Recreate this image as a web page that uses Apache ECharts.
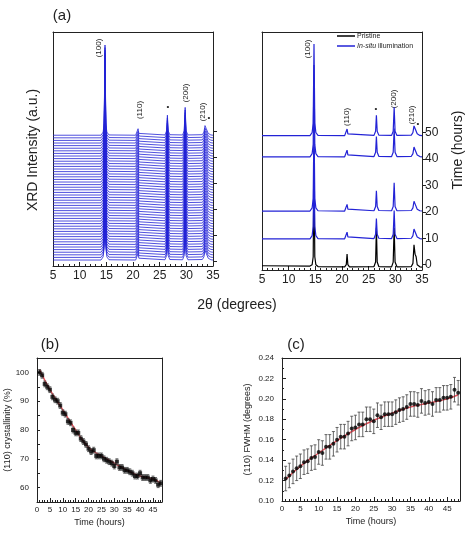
<!DOCTYPE html>
<html><head><meta charset="utf-8">
<script src="https://cdn.jsdelivr.net/npm/echarts@6/dist/echarts.min.js"></script>
<style>html,body{margin:0;background:#fff}#c{width:474px;height:535px}</style>
</head><body><div id="c"></div>
<script>
// XRD profile (2θ, intensity) of an illuminated scan
var twoTheta = [5,14.0,14.4,14.6,14.75,14.9,15.1,15.5, 20.5,20.8,20.95,21.1,21.4, 26.0,26.3,26.45,26.6,26.9, 29.3,29.6,29.78,29.95,30.3, 33.0,33.3,33.5,33.7,33.9,34.1,34.6,35];
var blueProfile = [0.3,0.3,1.5,5,35,5,1.5,0.4, 0.3,1,2.8,1,0.3, 0.4,2,8,2,0.5, 0.4,2,11,2,0.4, 0.5,1.5,4,3,2.5,1,0.4,0.3];
var blackProfile = [0.6,0.5,1,4,40,4,1,0.3, 0.2,1,5,1,0.2, 0.3,2,15,2,0.3, 0.2,2,15,2,0.2, 0.3,1.5,8.5,5,4,1,0.2,0.1];
var leftTimes = [0,1,2,3,4,5,6,7,8,9,10,11,12,13,14,15,16,17,18,19,20,21,22,23,24,25,26,27,28,29,30,31,32,33,34,35,36,37,38,39,40,41,42,43,44,45,46,47,48];
var rightTimes = [9.5,20,40.5,48.5];
var pristineOffset = -1;
var timeTicks = [0,10,20,30,40,50];
// (b) and (c)
var hours = [1,2,3,4,5,6,7,8,9,10,11,12,13,14,15,16,17,18,19,20,21,22,23,24,25,26,27,28,29,30,31,32,33,34,35,36,37,38,39,40,41,42,43,44,45,46,47,48];
var cryst = [100,99,96,95,94,91.5,90.5,90,88.5,86,85.5,83,82.5,80,79,79,77,76,75,73.5,72.5,73,71,71,71,70,69.5,69,68.5,67.5,69,67,67,66,66,65.5,65,64,64,65,63.5,63.5,63.5,62.5,63,62.5,61,61.5];
var crystErr = 1;
var crystFitT = [1,5,10,15,20,25,30,35,40,45,48];
var crystFit = [101,94,87,80,74,71,68.5,66,64,63,61.5];
var fwhm = [0.122,0.125,0.129,0.132,0.134,0.138,0.139,0.142,0.143,0.148,0.147,0.153,0.153,0.156,0.160,0.163,0.163,0.166,0.171,0.172,0.175,0.175,0.180,0.180,0.178,0.184,0.182,0.185,0.185,0.185,0.187,0.189,0.190,0.192,0.195,0.195,0.194,0.198,0.196,0.197,0.195,0.199,0.199,0.201,0.201,0.202,0.209,0.206];
var fwhmErr = 0.012;
var fwhmFitT = [1,5,10,15,20,25,30,35,40,45,48];
var fwhmFit = [0.121,0.134,0.147,0.159,0.170,0.179,0.186,0.192,0.196,0.200,0.204];

var chart = echarts.init(document.getElementById('c'));
var F = 'Arial, Liberation Sans, sans-serif';
var BLUE = '#2323d6';
function prof(p, off){ return twoTheta.map(function(x,i){return [x, p[i]+off];}); }
function xA(grid, min, max, interval, fs, name){
  return {gridIndex:grid, type:'value', min:min, max:max, interval:interval,
    axisLine:{onZero:false,lineStyle:{color:'#222',width:1}}, axisTick:{inside:true,length:4,lineStyle:{color:'#222'}},
    minorTick:{show:true,splitNumber:5,length:2,lineStyle:{color:'#222'}},
    axisLabel:{color:'#222',fontSize:fs,fontFamily:F,margin:4,showMaxLabel:max%5===0}, splitLine:{show:false}};
}
function frameX(grid){ return {gridIndex:grid,type:'value',position:'top',min:0,max:1,axisLine:{onZero:false,lineStyle:{color:'#222'}},axisTick:{show:false},axisLabel:{show:false},splitLine:{show:false}}; }
function frameY(grid,pos){ return {gridIndex:grid,type:'value',position:pos,min:0,max:1,axisLine:{show:true,onZero:false,lineStyle:{color:'#222'}},axisTick:{show:false},axisLabel:{show:false},splitLine:{show:false}}; }
var axLine = {show:true,onZero:false,lineStyle:{color:'#222',width:1}};
var series = [];
leftTimes.forEach(function(t){ series.push({type:'line',xAxisIndex:0,yAxisIndex:0,data:prof(blueProfile,t),showSymbol:false,silent:true,lineStyle:{color:BLUE,width:0.8},z:2+t}); });
series.push({type:'line',xAxisIndex:1,yAxisIndex:1,data:prof(blackProfile,pristineOffset),showSymbol:false,lineStyle:{color:'#000',width:1.2}});
rightTimes.forEach(function(t){ series.push({type:'line',xAxisIndex:1,yAxisIndex:1,data:prof(blueProfile,t),showSymbol:false,lineStyle:{color:BLUE,width:1.2}}); });
function errSeries(xi, ys, err){
  return {type:'custom',xAxisIndex:xi,yAxisIndex:xi,data:hours.map(function(h,i){return [h,ys[i]-err,ys[i]+err];}),
    renderItem:function(p,api){var a=api.coord([api.value(0),api.value(1)]),b=api.coord([api.value(0),api.value(2)]);
      return {type:'group',children:[
        {type:'line',shape:{x1:a[0],y1:a[1],x2:b[0],y2:b[1]},style:{stroke:'#444',lineWidth:0.8}},
        {type:'line',shape:{x1:a[0]-1.5,y1:a[1],x2:a[0]+1.5,y2:a[1]},style:{stroke:'#444',lineWidth:0.8}},
        {type:'line',shape:{x1:b[0]-1.5,y1:b[1],x2:b[0]+1.5,y2:b[1]},style:{stroke:'#444',lineWidth:0.8}}]};},z:3};
}
series.push(errSeries(2, cryst, crystErr));
series.push({type:'line',xAxisIndex:2,yAxisIndex:2,data:crystFitT.map(function(t,i){return [t,crystFit[i]];}),smooth:true,showSymbol:false,lineStyle:{color:'#e8505a',width:1.5},z:2});
series.push({type:'scatter',xAxisIndex:2,yAxisIndex:2,data:hours.map(function(h,i){return [h,cryst[i]];}),symbol:'rect',symbolSize:4,itemStyle:{color:'#000'},z:4});
series.push(errSeries(3, fwhm, fwhmErr));
series.push({type:'line',xAxisIndex:3,yAxisIndex:3,data:fwhmFitT.map(function(t,i){return [t,fwhmFit[i]];}),smooth:true,showSymbol:false,lineStyle:{color:'#e8505a',width:1.5},z:2});
series.push({type:'scatter',xAxisIndex:3,yAxisIndex:3,data:hours.map(function(h,i){return [h,fwhm[i]];}),symbol:'circle',symbolSize:4,itemStyle:{color:'#000'},z:4});

function yTime(grid, showLabel){
  return {gridIndex:grid,type:'value',position:'right',min:-2,max:88,
    axisLine:axLine, axisTick:{show:true,inside:false,length:4,customValues:timeTicks,lineStyle:{color:'#222'}},
    axisLabel:{show:showLabel,customValues:timeTicks,color:'#222',fontSize:12,fontFamily:F,margin:3},splitLine:{show:false}};
}
function tx(x,y,t,fs,rot,extra){ return {type:'text',x:x,y:y,rotation:rot?Math.PI/2:0,style:Object.assign({text:t,fontSize:fs,fontFamily:F,fill:'#222',align:'center',verticalAlign:'middle'},extra||{})}; }
var graphics = [
  tx(62,16,'(a)',15), tx(33,150,'XRD Intensity (a.u.)',14,true), tx(237,305,'2θ (degrees)',14), tx(458,150,'Time (hours)',14,true),
  tx(50,345,'(b)',15), tx(296,345,'(c)',15),
  tx(99,48,'(100)',8,true), tx(140,110,'(110)',8,true), tx(168,107,'•',8), tx(186,93,'(200)',8,true), tx(203,112,'(210)',8,true), tx(209,118,'•',8),
  tx(308,49,'(100)',8,true), tx(347,117,'(110)',8,true), tx(376,109,'•',8), tx(394,99,'(200)',8,true), tx(412,115,'(210)',8,true), tx(418,124,'•',8),
  {type:'line',shape:{x1:337,y1:36,x2:355,y2:36},style:{stroke:'#000',lineWidth:1.5}},
  {type:'line',shape:{x1:337,y1:46,x2:355,y2:46},style:{stroke:BLUE,lineWidth:1.5}},
  tx(357,36,'Pristine',7,false,{align:'left'}),
  {type:'text',x:357,y:46,style:{text:'{i|In-situ} illumination',fontSize:7,fontFamily:F,fill:'#222',verticalAlign:'middle',rich:{i:{fontStyle:'italic',fontSize:7,fontFamily:F}}}}
];
chart.setOption({
  animation:false,
  grid:[{left:53,top:32,width:160,height:234},{left:262,top:32,width:160,height:238},{left:37,top:358,width:125,height:144},{left:282,top:358,width:178,height:143}],
  xAxis:[xA(0,5,35,5,12), xA(1,5,35,5,12),
    Object.assign(xA(2,0,48.5,5,8),{name:'Time (hours)',nameLocation:'middle',nameGap:16,nameTextStyle:{fontSize:9,fontFamily:F,color:'#222'}}),
    Object.assign(xA(3,0,48.5,5,8),{name:'Time (hours)',nameLocation:'middle',nameGap:16,nameTextStyle:{fontSize:9,fontFamily:F,color:'#222'}}),
    frameX(0),frameX(1),frameX(2),frameX(3)],
  yAxis:[yTime(0,false), yTime(1,true),
    {gridIndex:2,type:'value',min:55,max:105,interval:5,axisLine:axLine,axisTick:{inside:true,length:3},
      axisLabel:{color:'#222',fontSize:8,fontFamily:F,formatter:function(v){return (v%10===0&&v>55&&v<105)?v:'';}},splitLine:{show:false},
      name:'(110) crystallinity (%)',nameLocation:'middle',nameGap:20,nameTextStyle:{fontSize:9,fontFamily:F,color:'#222'}},
    {gridIndex:3,type:'value',min:0.10,max:0.24,interval:0.02,axisLine:axLine,axisTick:{inside:true,length:4},minorTick:{show:true,splitNumber:2,length:2},
      axisLabel:{color:'#222',fontSize:8,fontFamily:F,formatter:function(v){return v.toFixed(2);}},splitLine:{show:false},
      name:'(110) FWHM (degrees)',nameLocation:'middle',nameGap:30,nameTextStyle:{fontSize:9,fontFamily:F,color:'#222'}},
    frameY(0,'left'),frameY(1,'left'),frameY(2,'right'),frameY(3,'right')],
  series:series,
  graphic:graphics
});
</script></body></html>
